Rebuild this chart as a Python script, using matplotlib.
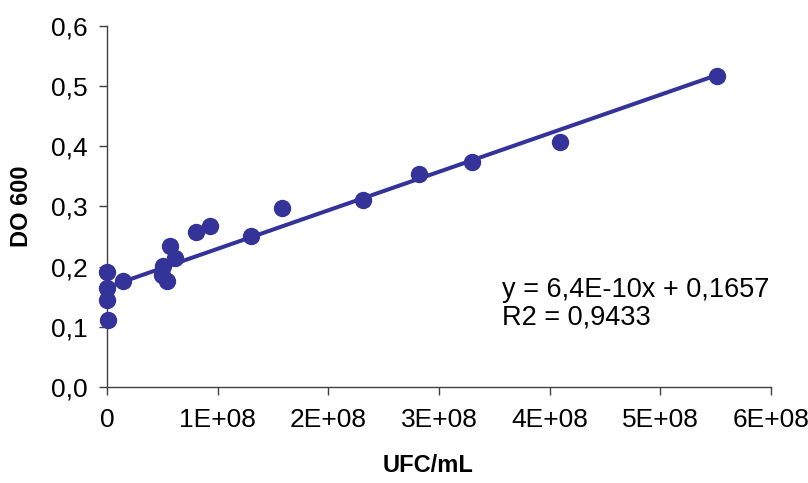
import matplotlib
matplotlib.use("Agg")
import matplotlib.pyplot as plt
import numpy as np

# Data
ufc = [0, 0, 0, 1.0e6, 1.45e7, 5.1e7, 5.0e7, 5.4e7, 5.7e7, 6.1e7, 8.0e7, 9.3e7,
       1.30e8, 1.58e8, 2.31e8, 2.82e8, 3.30e8, 4.09e8, 5.51e8]
do600 = [0.191, 0.164, 0.144, 0.112, 0.177, 0.201, 0.186, 0.177, 0.235, 0.214,
         0.257, 0.267, 0.251, 0.297, 0.311, 0.354, 0.374, 0.408, 0.517]
slope = 6.4e-10
intercept = 0.1657
equation = "y = 6,4E-10x + 0,1657"
r2_text = "R2 = 0,9433"
xticks = [0, 1e8, 2e8, 3e8, 4e8, 5e8, 6e8]
xticklabels = ["0", "1E+08", "2E+08", "3E+08", "4E+08", "5E+08", "6E+08"]
yticks = [0.0, 0.1, 0.2, 0.3, 0.4, 0.5, 0.6]
yticklabels = ["0,0", "0,1", "0,2", "0,3", "0,4", "0,5", "0,6"]

plt.rcParams['font.family'] = ['Liberation Sans', 'DejaVu Sans']
color = '#333399'

fig = plt.figure(figsize=(8.08, 4.83), dpi=100)
W, H = 808, 483
x0, x1, ytop, ybot = 107, 771, 26, 387
ax = fig.add_axes([x0 / W, 1 - ybot / H, (x1 - x0) / W, (ybot - ytop) / H])

xs = np.array([min(ufc), max(ufc)])
ax.plot(xs, slope * xs + intercept, color=color, lw=2.9, zorder=2, solid_capstyle='butt')
ax.plot(ufc, do600, 'o', color=color, ms=11.5, mec=color, zorder=3, clip_on=False)

ax.set_xlim(0, 6e8)
ax.set_ylim(0, 0.6)
ax.set_xticks(xticks)
ax.set_xticklabels(xticklabels)
ax.set_yticks(yticks)
ax.set_yticklabels(yticklabels)

for s in ['top', 'right']:
    ax.spines[s].set_visible(False)
for s in ['left', 'bottom']:
    ax.spines[s].set_color('#404040')
    ax.spines[s].set_linewidth(1.0)
    ax.spines[s].set_zorder(1)
ax.tick_params(axis='both', direction='out', length=6, width=1.0, color='#404040',
               labelsize=19)
ax.tick_params(axis='x', pad=9)
ax.tick_params(axis='y', pad=8)

ax.set_xlabel("UFC/mL", fontsize=17, fontweight='bold')
ax.xaxis.set_label_coords((428 - x0) / (x1 - x0), (ybot - 466) / (ybot - ytop))
ax.xaxis.label.set_verticalalignment('center')
ax.set_ylabel("DO 600", fontsize=17, fontweight='bold')
ax.yaxis.set_label_coords((22 - x0) / (x1 - x0), 0.5)
ax.yaxis.label.set_verticalalignment('center')

fig.text(502 / W, 1 - 297 / H, equation, fontsize=19.5, va='baseline', ha='left')
fig.text(502 / W, 1 - 325 / H, r2_text, fontsize=19.5, va='baseline', ha='left')

fig.savefig("out.png", dpi=100)
